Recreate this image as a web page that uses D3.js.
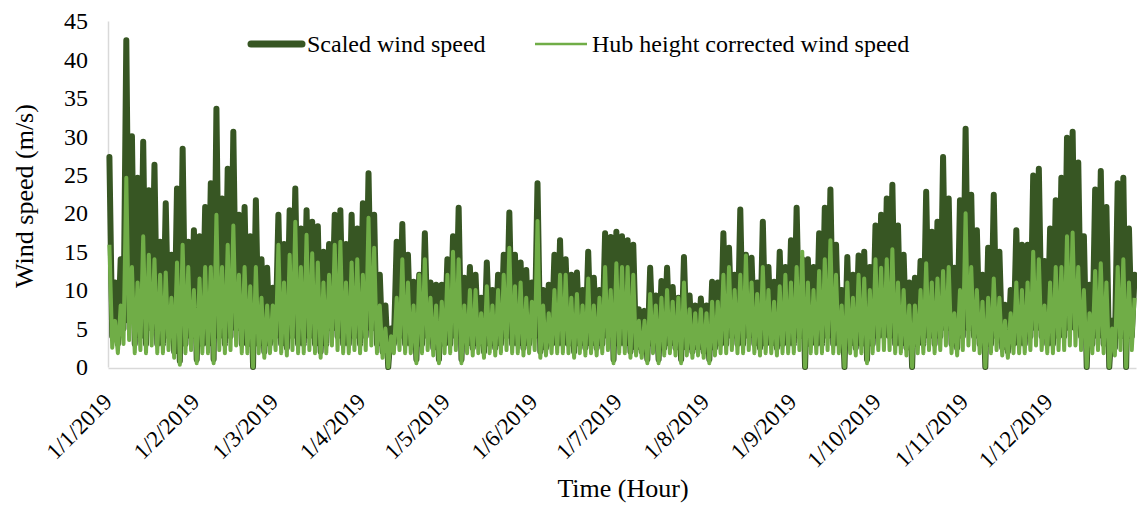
<!DOCTYPE html>
<html>
<head>
<meta charset="utf-8">
<script src="https://cdn.jsdelivr.net/npm/d3@7"></script>
<style>
    body { margin: 0; background: #ffffff; }
    svg { display: block; font-family: "Liberation Serif", "Times New Roman", serif; }
    svg text { font-family: "Liberation Serif", "Times New Roman", serif; }
</style>
</head>
<body>
<svg id="wind-speed-graph" width="1137" height="505"></svg>
<script>
//Values, one peak and one trough per two-day bin (Jan 1 -> Dec 31)
const darkPeaks = [27.3, 11, 14, 42.5, 30, 24.6, 29.3, 23, 26.3, 16.3,
    21.3, 14.6, 23.2, 28.4, 16.3, 17.8, 17, 20.8, 23.9, 33.6,
    21.9, 25.8, 30.6, 19.8, 20.8, 17, 21.7, 14, 12.9, 10.3,
    19.8, 16, 20.4, 23.2, 18, 20.4, 18.9, 18.3, 15, 16,
    19.8, 20.4, 16, 19.8, 18, 21.3, 25.2, 19.8, 12, 8,
    5, 16.3, 18.6, 14.6, 11.1, 12, 17.4, 11, 10.7, 10.7,
    14, 17, 20.7, 11.6, 13, 12, 9, 13.6, 10, 12,
    14.6, 20.1, 14.6, 13.6, 12.6, 11, 23.9, 10, 10.7, 14.6,
    16.5, 14, 12, 12.3, 10, 15, 11.6, 10, 17.4, 16.9,
    17.6, 17, 16.5, 15.9, 7.5, 7.3, 12.9, 9.3, 11.2, 12.9,
    10.4, 9, 14.3, 9.3, 8, 8.9, 8, 11.1, 11, 17.4,
    15.5, 12, 20.5, 14.6, 14.2, 11, 18.9, 13, 11.1, 15,
    13, 16.5, 20.7, 14, 14, 13, 17.4, 20.7, 23.1, 15.9,
    10, 14.3, 12, 14.5, 15, 13, 18.4, 19.8, 21.9, 23.7,
    18.4, 14.6, 11, 11.6, 13.8, 22.8, 17.6, 18.9, 27.3, 21.9,
    12.9, 21.7, 31, 22.4, 17.8, 12, 15.5, 22.4, 15, 8.1,
    10, 17.8, 15.9, 15.9, 24.9, 25.8, 13.8, 18, 21.7, 24.6,
    29.8, 30.6, 26.6, 17, 10.7, 23.1, 25.5, 20.8, 6, 23.9,
    24.6, 18, 12];

const darkTroughs = [4, 3, 5, 6, 3, 4, 3, 5, 3, 3,
    4, 2, 0.8, 3, 4, 1, 3, 3, 1, 4,
    3, 4, 5, 3, 3, 0, 3, 2, 3, 4,
    3, 2.5, 4, 3, 3, 4, 3, 2, 3, 5,
    4, 3, 3, 4, 3, 4, 5, 3, 2, 0,
    3, 4, 3, 3, 1, 3, 4, 2.5, 1, 3,
    3, 4, 1, 3, 2.5, 3, 2, 3, 2.5, 3,
    4, 3, 3, 2.5, 3, 4, 2, 2.5, 3, 3,
    3, 3, 2, 3, 2.5, 3, 2.5, 3, 4, 1,
    3, 3, 2, 2.5, 2, 1, 3, 1, 2.5, 3,
    2.5, 1, 2.5, 2, 2.5, 2, 1, 2.5, 3, 3,
    4, 3, 3, 4, 3, 2.5, 3, 3, 2.5, 3,
    3, 3, 4, 0, 3, 3, 3, 4, 3, 3,
    0, 3, 2.5, 3, 1, 3, 4, 4, 4, 3,
    3, 2.5, 0, 3, 3, 4, 3, 4, 5, 3,
    2.5, 4, 5, 4, 3, 0, 3, 4, 2.5, 2,
    3, 3, 3, 4, 5, 4, 3, 3, 4, 4,
    5, 5, 4, 0, 3, 4, 3, 0, 2.5, 4,
    0, 4];

const lightPeaks = [15.9, 6, 8, 24.6, 13, 11, 17, 14.6, 14, 12,
    12.3, 9, 13.6, 15.9, 13, 10, 11.5, 13, 13, 19.8,
    13, 15.9, 18.4, 12, 13, 10.5, 13, 9, 8, 8,
    15.9, 11, 14.6, 18.9, 13, 17.2, 14.8, 13.6, 11, 12,
    15.9, 16.3, 11, 13.6, 14, 12, 19.4, 15.5, 8, 5,
    4, 9, 14, 11, 8, 12, 14, 9, 8, 8.5,
    12, 15, 14, 8, 10, 10, 7, 10.5, 8, 10,
    12, 15.5, 10.5, 11, 9, 8.5, 19, 8, 7, 10,
    12, 12, 9, 9.5, 8, 11.5, 8, 9, 13, 10,
    13.5, 13, 13, 12, 6, 6, 9.5, 8, 9, 10,
    8.5, 9, 11, 7.5, 7, 7.5, 7, 8.5, 8.5, 12,
    13, 10, 12, 14.5, 11, 9.5, 13, 10, 8.5, 10.5,
    12, 11, 13, 15, 11, 10, 12.5, 14, 16.5, 12,
    8, 11, 9, 12, 11.5, 10, 14, 12.9, 14, 15.3,
    11, 10, 8, 8, 10, 13.5, 11, 11.5, 12.5, 13,
    7, 10, 20, 13, 10, 8.5, 9, 11.5, 9, 6,
    7, 11, 10, 11, 15, 14, 8, 11, 13, 13,
    17, 17.5, 13, 10, 7, 12.5, 13.5, 11, 5, 13,
    14, 11, 9];

const lightTroughs = [2.5, 1.8, 3, 3.5, 1.8, 2.2, 1.8, 2.8, 1.8, 1.8,
    2.2, 1.2, 0.3, 1.8, 2.2, 0.5, 1.8, 1.8, 0.5, 2.2,
    1.8, 2.2, 2.8, 1.8, 1.8, 0, 1.8, 1.2, 1.8, 2.2,
    1.8, 1.5, 2.2, 1.8, 1.8, 2.2, 1.8, 1.2, 1.8, 2.8,
    2.2, 1.8, 1.8, 2.2, 1.8, 2.2, 2.8, 1.8, 1.2, 0,
    1.8, 2.2, 1.8, 1.8, 0.5, 1.8, 2.2, 1.5, 0.5, 1.8,
    1.8, 2.2, 0.5, 1.8, 1.5, 1.8, 1.2, 1.8, 1.5, 1.8,
    2.2, 1.8, 1.8, 1.5, 1.8, 2.2, 1.2, 1.5, 1.8, 1.8,
    1.8, 1.8, 1.2, 1.8, 1.5, 1.8, 1.5, 1.8, 2.2, 0.5,
    1.8, 1.8, 1.2, 1.5, 1.2, 0.5, 1.8, 0.5, 1.5, 1.8,
    1.5, 0.5, 1.5, 1.2, 1.5, 1.2, 0.5, 1.5, 1.8, 1.8,
    2.2, 1.8, 1.8, 2.2, 1.8, 1.5, 1.8, 1.8, 1.5, 1.8,
    1.8, 1.8, 2.2, 0, 1.8, 1.8, 1.8, 2.2, 1.8, 1.8,
    0, 1.8, 1.5, 1.8, 0.5, 1.8, 2.2, 2.2, 2.2, 1.8,
    1.8, 1.5, 0, 1.8, 1.8, 2.2, 1.8, 2.2, 2.8, 1.8,
    1.5, 2.2, 2.8, 2.2, 1.8, 0, 1.8, 2.2, 1.5, 1.2,
    1.8, 1.8, 1.8, 2.2, 2.8, 2.2, 1.8, 1.8, 2.2, 2.2,
    2.8, 2.8, 2.2, 0, 1.8, 2.2, 1.8, 0, 1.5, 2.2,
    0, 2.2];

const xTickLabels = ['1/1/2019', '1/2/2019', '1/3/2019', '1/4/2019', '1/5/2019', '1/6/2019',
    '1/7/2019', '1/8/2019', '1/9/2019', '1/10/2019', '1/11/2019', '1/12/2019'];
const yTicks = [0, 5, 10, 15, 20, 25, 30, 35, 40, 45];
const seriesNames = ['Scaled wind speed', 'Hub height corrected wind speed'];

//Some constants
const serifFont = '"Liberation Serif", "Times New Roman", serif';
const darkColor = '#375623';
const lightColor = '#70ad47';
const axisColor = '#d9d9d9';
const binHours = 48;
const plotLeft = 108, plotRight = 1136, plotTop = 21, plotBottom = 367;

//Turn peak/trough lists into hourly points
function buildSeries(peaks, troughs) {
    var pts = [];
    for (var i = 0; i < peaks.length; i++) {
        pts.push({hour: i * binHours + 12, value: peaks[i]});
        if (i < troughs.length)
            pts.push({hour: i * binHours + 36, value: troughs[i]});
    }
    return pts;
}

var darkData = buildSeries(darkPeaks, darkTroughs);
var lightData = buildSeries(lightPeaks, lightTroughs);

var start = new Date(Date.UTC(2019, 0, 1));
var end = new Date(Date.UTC(2020, 0, 1));

var x = d3.scaleUtc()
    .domain([start, end])
    .range([plotLeft, plotRight]);

var y = d3.scaleLinear()
    .domain([0, 45])
    .range([plotBottom, plotTop]);

var svg = d3.select('#wind-speed-graph');

//Y axis
var yAxis = svg.append('g')
    .attr('transform', 'translate(' + plotLeft + ',0)')
    .call(d3.axisLeft(y).tickValues(yTicks).tickSize(0).tickPadding(20));
yAxis.attr('font-family', null);
yAxis.select('.domain').attr('stroke', axisColor).attr('stroke-width', 1.5);
yAxis.selectAll('text')
    .style('font-family', serifFont)
    .style('font-size', '24px')
    .attr('fill', '#000');

//X axis, month labels rotated
var monthStarts = d3.utcMonth.range(start, end);
var xAxis = svg.append('g')
    .attr('transform', 'translate(0,' + (plotBottom + 1) + ')')
    .call(d3.axisBottom(x)
        .tickValues(monthStarts)
        .tickFormat(function(d, i) { return xTickLabels[i]; })
        .tickSize(0)
        .tickSizeOuter(0));
xAxis.attr('font-family', null);
xAxis.select('.domain').attr('stroke', axisColor).attr('stroke-width', 1.5);
xAxis.selectAll('text')
    .style('font-family', serifFont)
    .style('font-size', '23px')
    .attr('fill', '#000')
    .attr('y', 0)
    .attr('dy', 0)
    .attr('text-anchor', 'end')
    .attr('transform', 'translate(5,35) rotate(-45)');

//Lines, hub height series drawn on top
var line = d3.line()
    .x(function(d) { return x(d3.utcHour.offset(start, d.hour)); })
    .y(function(d) { return y(d.value); });

svg.append('path')
    .datum(darkData)
    .attr('fill', 'none')
    .attr('stroke', darkColor)
    .attr('stroke-width', 6)
    .attr('stroke-linejoin', 'round')
    .attr('stroke-linecap', 'round')
    .attr('d', line);

svg.append('path')
    .datum(lightData)
    .attr('fill', 'none')
    .attr('stroke', lightColor)
    .attr('stroke-width', 4)
    .attr('stroke-linejoin', 'round')
    .attr('d', line);

//Legend
var legend = svg.append('g').style('font-size', '24px');
legend.append('line')
    .attr('x1', 251).attr('x2', 302).attr('y1', 44).attr('y2', 44)
    .attr('stroke', darkColor).attr('stroke-width', 7).attr('stroke-linecap', 'round');
legend.append('text')
    .attr('x', 307).attr('y', 52)
    .text(seriesNames[0]);
legend.append('line')
    .attr('x1', 535).attr('x2', 587).attr('y1', 44).attr('y2', 44)
    .attr('stroke', lightColor).attr('stroke-width', 2.5);
legend.append('text')
    .attr('x', 592).attr('y', 52)
    .text(seriesNames[1]);

//Axis titles
svg.append('text')
    .attr('transform', 'translate(33,196) rotate(-90)')
    .attr('text-anchor', 'middle')
    .style('font-size', '26px')
    .text('Wind speed (m/s)');

svg.append('text')
    .attr('x', 623).attr('y', 497)
    .attr('text-anchor', 'middle')
    .style('font-size', '26px')
    .text('Time (Hour)');
</script>
</body>
</html>
